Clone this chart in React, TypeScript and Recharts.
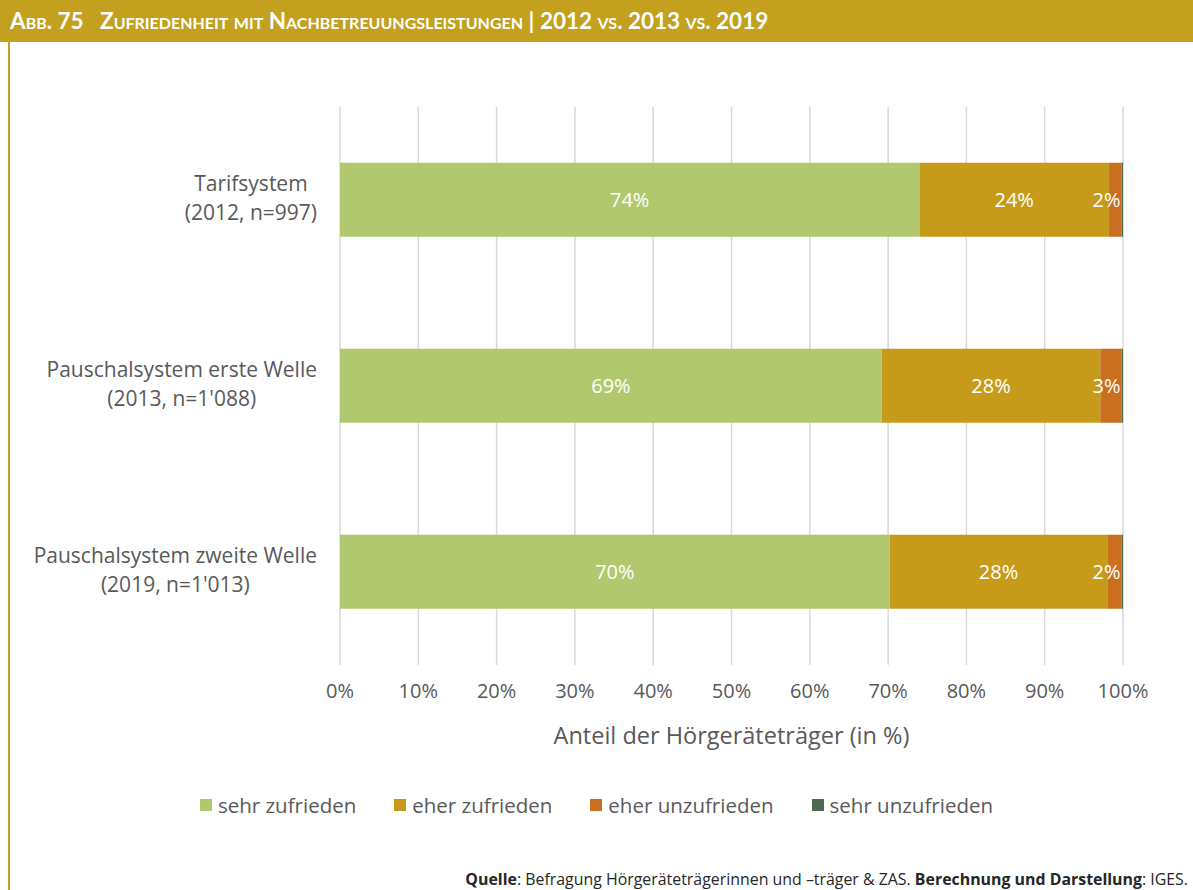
import { BarChart, Bar, XAxis, YAxis, CartesianGrid, LabelList } from 'recharts'

const CATEGORY_NAMES = ['Tarifsystem', 'Pauschalsystem erste Welle', 'Pauschalsystem zweite Welle']
const CATEGORY_SAMPLES = ['(2012, n=997)', "(2013, n=1'088)", "(2019, n=1'013)"]

// shares in % per category
const SEHR_ZUFRIEDEN = [74.0, 69.2, 70.2]
const EHER_ZUFRIEDEN = [24.2, 27.9, 27.8]
const EHER_UNZUFRIEDEN = [1.6, 2.7, 1.8]
const SEHR_UNZUFRIEDEN = [0.2, 0.2, 0.2]

const X_TICKS = [0, 10, 20, 30, 40, 50, 60, 70, 80, 90, 100]

const SERIES = [
  { key: 'sehrZufrieden', name: 'sehr zufrieden', color: '#B2C86E', values: SEHR_ZUFRIEDEN, showLabel: true },
  { key: 'eherZufrieden', name: 'eher zufrieden', color: '#C79B1A', values: EHER_ZUFRIEDEN, showLabel: true },
  { key: 'eherUnzufrieden', name: 'eher unzufrieden', color: '#C96F1F', values: EHER_UNZUFRIEDEN, showLabel: true },
  { key: 'sehrUnzufrieden', name: 'sehr unzufrieden', color: '#4E6A55', values: SEHR_UNZUFRIEDEN, showLabel: false }
]

const FONT = '"Open Sans", Lato, sans-serif'
const HEAD_FONT = 'Lato, "Open Sans", sans-serif'
const GRAY = '#595959'
const GOLD = '#C3A11F'

const data = CATEGORY_NAMES.map((name, i) => {
  const row: any = { name, sample: CATEGORY_SAMPLES[i] }
  SERIES.forEach(s => { row[s.key] = s.values[i] })
  return row
})

const CategoryTick = ({ y, payload, index }: any) => {
  return (
    <foreignObject x={0} y={y - 31} width={317} height={62}>
      <div style={{ textAlign: 'right', fontFamily: FONT, fontSize: 21, color: GRAY, lineHeight: '29px' }}>
        <div style={{ display: 'inline-block', textAlign: 'center' }}>
          {payload.value}
          <br />
          {CATEGORY_SAMPLES[index]}
        </div>
      </div>
    </foreignObject>
  )
}

const SegmentLabel = ({ x, y, width, height, value }: any) => {
  const small = width < 34
  const lx = small ? x + width - 1 : x + width / 2
  return (
    <text
      x={lx}
      y={y + height / 2}
      fill="#FFFFFF"
      textAnchor={small ? 'end' : 'middle'}
      dominantBaseline="central"
      style={{ fontFamily: FONT, fontSize: 20 }}
    >
      {`${Math.round(value)}%`}
    </text>
  )
}

export default function App() {
  return (
    <div style={{ position: 'absolute', left: 0, top: 0, width: 1193, height: 890, background: '#FFFFFF', overflow: 'hidden' }}>
      <div style={{ position: 'absolute', left: 0, top: 0, width: 1193, height: 42, background: GOLD }}>
        <div style={{ position: 'absolute', left: 10, top: 7, color: '#FFFFFF', fontFamily: HEAD_FONT, fontWeight: 700, fontSize: 22.5, fontVariant: 'small-caps', whiteSpace: 'nowrap' }}>
          Abb. 75&nbsp;&nbsp;&nbsp;Zufriedenheit mit Nachbetreuungsleistungen | 2012 vs. 2013 vs. 2019
        </div>
      </div>
      <div style={{ position: 'absolute', left: 8, top: 42, width: 2, height: 848, background: GOLD }} />

      <div style={{ position: 'absolute', left: 0, top: 0 }}>
        <BarChart
          width={1193}
          height={760}
          data={data}
          layout="vertical"
          margin={{ top: 107, right: 70, bottom: 0, left: 0 }}
          barCategoryGap="30%"
        >
          <CartesianGrid horizontal={false} stroke="#D9D9D9" strokeWidth={1.5} />
          <XAxis
            type="number"
            domain={[0, 100]}
            ticks={X_TICKS}
            tickFormatter={(v: number) => `${v}%`}
            axisLine={false}
            tickLine={false}
            tickMargin={13}
            height={95}
            tick={{ fill: GRAY, fontSize: 20, fontFamily: FONT }}
            label={{ value: 'Anteil der Hörgeräteträger (in %)', position: 'insideBottom', offset: 16, fill: GRAY, fontSize: 23.5, fontFamily: FONT }}
          />
          <YAxis
            type="category"
            dataKey="name"
            width={340}
            axisLine={false}
            tickLine={false}
            tick={<CategoryTick />}
          />
          {SERIES.map(s => (
            <Bar key={s.key} dataKey={s.key} name={s.name} stackId="a" fill={s.color} isAnimationActive={false}>
              {s.showLabel && <LabelList dataKey={s.key} content={SegmentLabel} />}
            </Bar>
          ))}
        </BarChart>
      </div>

      <div style={{ position: 'absolute', left: 0, top: 791, width: 1193, display: 'flex', justifyContent: 'center', fontFamily: FONT, fontSize: 20.5, color: GRAY }}>
        {SERIES.map((s, i) => (
          <div key={s.key} style={{ display: 'flex', alignItems: 'center', marginLeft: i === 0 ? 0 : 38 }}>
            <span style={{ display: 'inline-block', width: 12, height: 12, background: s.color, marginRight: 6 }} />
            <span>{s.name}</span>
          </div>
        ))}
      </div>

      <div style={{ position: 'absolute', right: 5, top: 868, fontFamily: FONT, fontSize: 15.9, color: '#262626', whiteSpace: 'nowrap' }}>
        <b>Quelle</b>: Befragung Hörgeräteträgerinnen und –träger &amp; ZAS. <b>Berechnung und Darstellung</b>: IGES.
      </div>
    </div>
  )
}
